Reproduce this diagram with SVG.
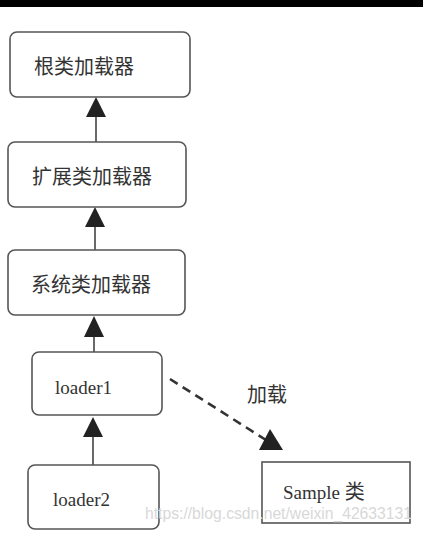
<svg xmlns="http://www.w3.org/2000/svg" width="423" height="533" viewBox="0 0 423 533">
<style>
.box{fill:#fff;stroke:#555;stroke-width:1.6}
.cn{font-family:"Noto Sans CJK SC","Noto Sans",sans-serif;font-size:20px;fill:#333}
.en{font-family:"Liberation Serif","DejaVu Serif",serif;font-size:19px;fill:#333}
.ln{stroke:#444;stroke-width:1.6;fill:none}
.dash{stroke:#333;stroke-width:2.6;stroke-dasharray:9,6;fill:none}
.hd{fill:#222}
.wm{font-family:"Liberation Sans",Arial,sans-serif;font-size:16px;fill:#d8d8d8}
</style>
<rect x="0" y="0" width="423" height="533" fill="#fff"/>
<rect x="0" y="0" width="423" height="7" fill="#000"/>
<g id="connectors">
<line class="ln" x1="96" y1="115" x2="96" y2="142"/>
<polygon class="hd" points="96,97 86,117 106,117"/>
<line class="ln" x1="95" y1="225" x2="95" y2="250"/>
<polygon class="hd" points="95,207 85,227 105,227"/>
<line class="ln" x1="94" y1="335" x2="94" y2="352"/>
<polygon class="hd" points="94,316 84,337 104,337"/>
<line class="ln" x1="93" y1="435" x2="93" y2="465"/>
<polygon class="hd" points="93,417 83,437 103,437"/>
<line class="dash" x1="170" y1="379" x2="266" y2="440"/>
<polygon class="hd" points="270,429 259,450 283,450"/>
<text class="cn" x="247" y="402">加载</text>
</g>
<g id="root-loader">
<rect class="box" x="10" y="32" width="180" height="65" rx="7"/>
<text class="cn" x="34" y="74">根类加载器</text>
</g>
<g id="ext-loader">
<rect class="box" x="8" y="142" width="178" height="65" rx="7"/>
<text class="cn" x="32" y="184">扩展类加载器</text>
</g>
<g id="sys-loader">
<rect class="box" x="8" y="250" width="177" height="65" rx="7"/>
<text class="cn" x="31" y="292">系统类加载器</text>
</g>
<g id="loader1">
<rect class="box" x="32" y="352" width="130" height="63" rx="7"/>
<text class="en" x="55" y="394">loader1</text>
</g>
<g id="loader2">
<rect class="box" x="28" y="465" width="131" height="64" rx="7"/>
<text class="en" x="53" y="506">loader2</text>
</g>
<g id="sample">
<rect class="box" x="262" y="462" width="148" height="61"/>
<text class="en" x="283" y="499">Sample <tspan class="cn" font-size="18">类</tspan></text>
</g>
<text class="wm" x="145" y="519" textLength="267" lengthAdjust="spacingAndGlyphs">https://blog.csdn.net/weixin_42633131</text>
</svg>
